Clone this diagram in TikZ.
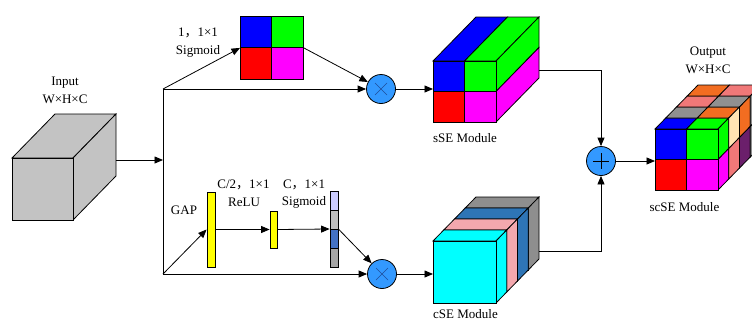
\documentclass[tikz,border=0pt]{standalone}
\usepackage{fontspec}
\setmainfont{Liberation Serif}
\newfontfamily\cjk{Noto Sans CJK SC}
\usetikzlibrary{arrows.meta,calc}
\definecolor{inGray}{HTML}{C3C3C3}
\definecolor{cB}{RGB}{0,0,255}
\definecolor{cG}{RGB}{0,255,0}
\definecolor{cR}{RGB}{255,0,0}
\definecolor{cM}{RGB}{255,0,255}
\definecolor{cC}{RGB}{0,255,255}
\definecolor{cPink}{HTML}{F4A8AE}
\definecolor{cSteel}{HTML}{2E75B6}
\definecolor{cGrayD}{HTML}{8E8E8E}
\definecolor{oGray}{HTML}{909090}
\definecolor{oOrange}{HTML}{F26D21}
\definecolor{oSalmon}{HTML}{F07878}
\definecolor{oCream}{HTML}{FFE4B3}
\definecolor{oPurple}{HTML}{6B1F6B}
\definecolor{opBlue}{RGB}{51,153,255}
\definecolor{opLine}{HTML}{1F4E9A}
\definecolor{bLav}{HTML}{CCCCFF}
\definecolor{bLG}{HTML}{C0C0C0}
\definecolor{bBlue}{HTML}{4472C4}
\definecolor{bDG}{HTML}{A6A6A6}
\definecolor{barY}{RGB}{255,255,0}
\newcommand\cuboid[7]{%
 \filldraw[fill=#7] (#1,#2) -- (#1+#5,#2-#6) -- (#1+#3+#5,#2-#6) -- (#1+#3,#2) -- cycle;
 \filldraw[fill=#7] (#1+#3,#2) -- (#1+#3+#5,#2-#6) -- (#1+#3+#5,#2+#4-#6) -- (#1+#3,#2+#4) -- cycle;
 \filldraw[fill=#7] (#1,#2) rectangle (#1+#3,#2+#4);}
\begin{document}
\begin{tikzpicture}[x=1pt,y=-1pt,line width=0.8pt,
  >={Triangle[length=8.5pt,width=7pt]},
  font=\fontsize{13}{15}\selectfont,
  lbl/.style={inner sep=0pt},
  face/.style={draw,inner sep=0pt,anchor=north west},
  op/.style={circle,draw,fill=opBlue,minimum size=29pt,inner sep=0pt},
  bar/.style={draw,fill=barY,inner sep=0pt,minimum width=8pt}]
\useasboundingbox (0,0) rectangle (752,322);

% ---------- input cube
\filldraw[fill=inGray] (12,158) -- (55,114) -- (116,114) -- (73,158) -- cycle;
\filldraw[fill=inGray] (73,158) -- (116,114) -- (116,176) -- (73,220) -- cycle;
\node[face,fill=inGray,minimum width=61pt,minimum height=62pt] (in) at (12,158) {};
\coordinate (inR) at (116,160);
\node[lbl] (inlab1) at (65,83) {Input};
\node[lbl] (inlab2) at (65,99) {W×H×C};

% ---------- split
\coordinate (sp) at (163,160);
\coordinate (spT) at (163,89);
\coordinate (spB) at (163,274);
\draw (spT) -- (spB);
\draw[->] (inR) -- (sp);

% ---------- top branch: spatial map
\fill[cB] (240,16) rectangle (271.5,47.5);
\fill[cG] (271.5,16) rectangle (303,47.5);
\fill[cR] (240,47.5) rectangle (271.5,79);
\fill[cM] (271.5,47.5) rectangle (303,79);
\draw (271.5,16) -- (271.5,79) (240,47.5) -- (303,47.5);
\node[face,minimum width=63pt,minimum height=63pt] (grid) at (240,16) {};
\node[lbl] (s1a) at (198,33) {1{\cjk ，}1×1};
\node[lbl] (s1b) at (198,51) {Sigmoid};

\node[op] (m1) at (381,89) {};
\draw[line width=0.4pt,opLine] ($(m1)+(-6,-6)$) -- ($(m1)+(6,6)$) ($(m1)+(-6,6)$) -- ($(m1)+(6,-6)$);

\draw[->] (spT) -- (grid.west);
\draw[->] (grid.east) -- (m1);
\draw[->] (spT) -- (m1.west);

% ---------- sSE cube
\filldraw[fill=cB] (433,61) -- (476,17) -- (507.5,17) -- (464.5,61) -- cycle;
\filldraw[fill=cG] (464.5,61) -- (507.5,17) -- (539,17) -- (496,61) -- cycle;
\filldraw[fill=cG] (496,61) -- (539,17) -- (539,47.5) -- (496,91.5) -- cycle;
\filldraw[fill=cM] (496,91.5) -- (539,47.5) -- (539,78) -- (496,122) -- cycle;
\filldraw[fill=cB] (433,61) rectangle (464.5,91.5);
\filldraw[fill=cG] (464.5,61) rectangle (496,91.5);
\filldraw[fill=cR] (433,91.5) rectangle (464.5,122);
\filldraw[fill=cM] (464.5,91.5) rectangle (496,122);
\node[face,minimum width=63pt,minimum height=61pt] (sse) at (433,61) {};
\coordinate (sseR) at (539,70);
\node[lbl] (sselab) at (465,138) {sSE Module};
\draw[->] (m1.east) -- (m1.east -| sse.west);

% ---------- bottom branch: channel
\node[bar,minimum height=75pt] (b1) at (211,229.5) {};
\node[bar,minimum width=7pt,minimum height=37pt] (b2) at (273.5,229.5) {};
\filldraw[fill=bLav] (330,191) rectangle (338,210);
\filldraw[fill=bLG] (330,210) rectangle (338,229);
\filldraw[fill=bBlue] (330,229) rectangle (338,248);
\filldraw[fill=bDG] (330,248) rectangle (338,267);
\node[draw,inner sep=0pt,minimum width=8pt,minimum height=76pt] (b3) at (334,229) {};
\node[lbl] (gap) at (184,210) {GAP};
\node[lbl] (r1a) at (243.5,185) {C/2{\cjk ，}1×1};
\node[lbl] (r1b) at (244,202) {ReLU};
\node[lbl] (s2a) at (304,185) {C{\cjk ，}1×1};
\node[lbl] (s2b) at (304,202) {Sigmoid};

\node[op] (m2) at (382,274) {};
\draw[line width=0.4pt,opLine] ($(m2)+(-6,-6)$) -- ($(m2)+(6,6)$) ($(m2)+(-6,6)$) -- ($(m2)+(6,-6)$);

\draw[->] (spB) -- (b1.west);
\draw[->] (b1.east) -- (b2.west);
\draw[->] (b2.east) -- (b3.west);
\draw[->] (b3.east) -- (m2);
\draw[->] (spB) -- (m2.west);

% ---------- cSE cube
\cuboid{465.25}{208}{63}{62}{10.75}{11}{cGrayD}
\cuboid{454.5}{219}{63}{62}{10.75}{11}{cSteel}
\cuboid{443.75}{230}{63}{62}{10.75}{11}{cPink}
\cuboid{433}{241}{63}{62}{10.75}{11}{cC}
\node[face,minimum width=63pt,minimum height=62pt] (cse) at (433,241) {};
\coordinate (cseR) at (539,251);
\node[lbl] (cselab) at (465.5,314.5) {cSE Module};
\draw[->] (m2.east) -- (m2.east -| cse.west);

% ---------- fusion
\node[op] (plus) at (601,161) {};
\draw[line width=0.8pt] ($(plus)+(-8,0)$) -- ($(plus)+(8,0)$) ($(plus)+(0,-8)$) -- ($(plus)+(0,8)$);
\draw[->] (sseR) -| (plus.north);
\draw[->] (cseR) -| (plus.south);

% ---------- output cube
\foreach \k/\a/\b in {0/cB/cG,1/oGray/oOrange,2/oSalmon/oGray,3/oOrange/oSalmon}{
  \filldraw[fill=\a] (655+10.75*\k,129-11*\k) -- ++(10.75,-11) -- ++(31.5,0) -- ++(-10.75,11) -- cycle;
  \filldraw[fill=\b] (686.5+10.75*\k,129-11*\k) -- ++(10.75,-11) -- ++(31.5,0) -- ++(-10.75,11) -- cycle;}
\foreach \k/\a/\b in {0/cG/cM,1/oCream/oSalmon,2/oOrange/oPurple,3/oGray/oGray}{
  \filldraw[fill=\a] (718+10.75*\k,129-11*\k) -- ++(10.75,-11) -- ++(0,30.5) -- ++(-10.75,11) -- cycle;
  \filldraw[fill=\b] (718+10.75*\k,159.5-11*\k) -- ++(10.75,-11) -- ++(0,30.5) -- ++(-10.75,11) -- cycle;}
\filldraw[fill=cB] (655,129) rectangle (686.5,159.5);
\filldraw[fill=cG] (686.5,129) rectangle (718,159.5);
\filldraw[fill=cR] (655,159.5) rectangle (686.5,190);
\filldraw[fill=cM] (686.5,159.5) rectangle (718,190);
\node[face,minimum width=63pt,minimum height=61pt] (out) at (655,129) {};
\node[lbl] (outlab1) at (708,53) {Output};
\node[lbl] (outlab2) at (708,69) {W×H×C};
\node[lbl] (scselab) at (684.5,207) {scSE Module};
\draw[->] (plus.east) -- (plus.east -| out.west);
\end{tikzpicture}
\end{document}
